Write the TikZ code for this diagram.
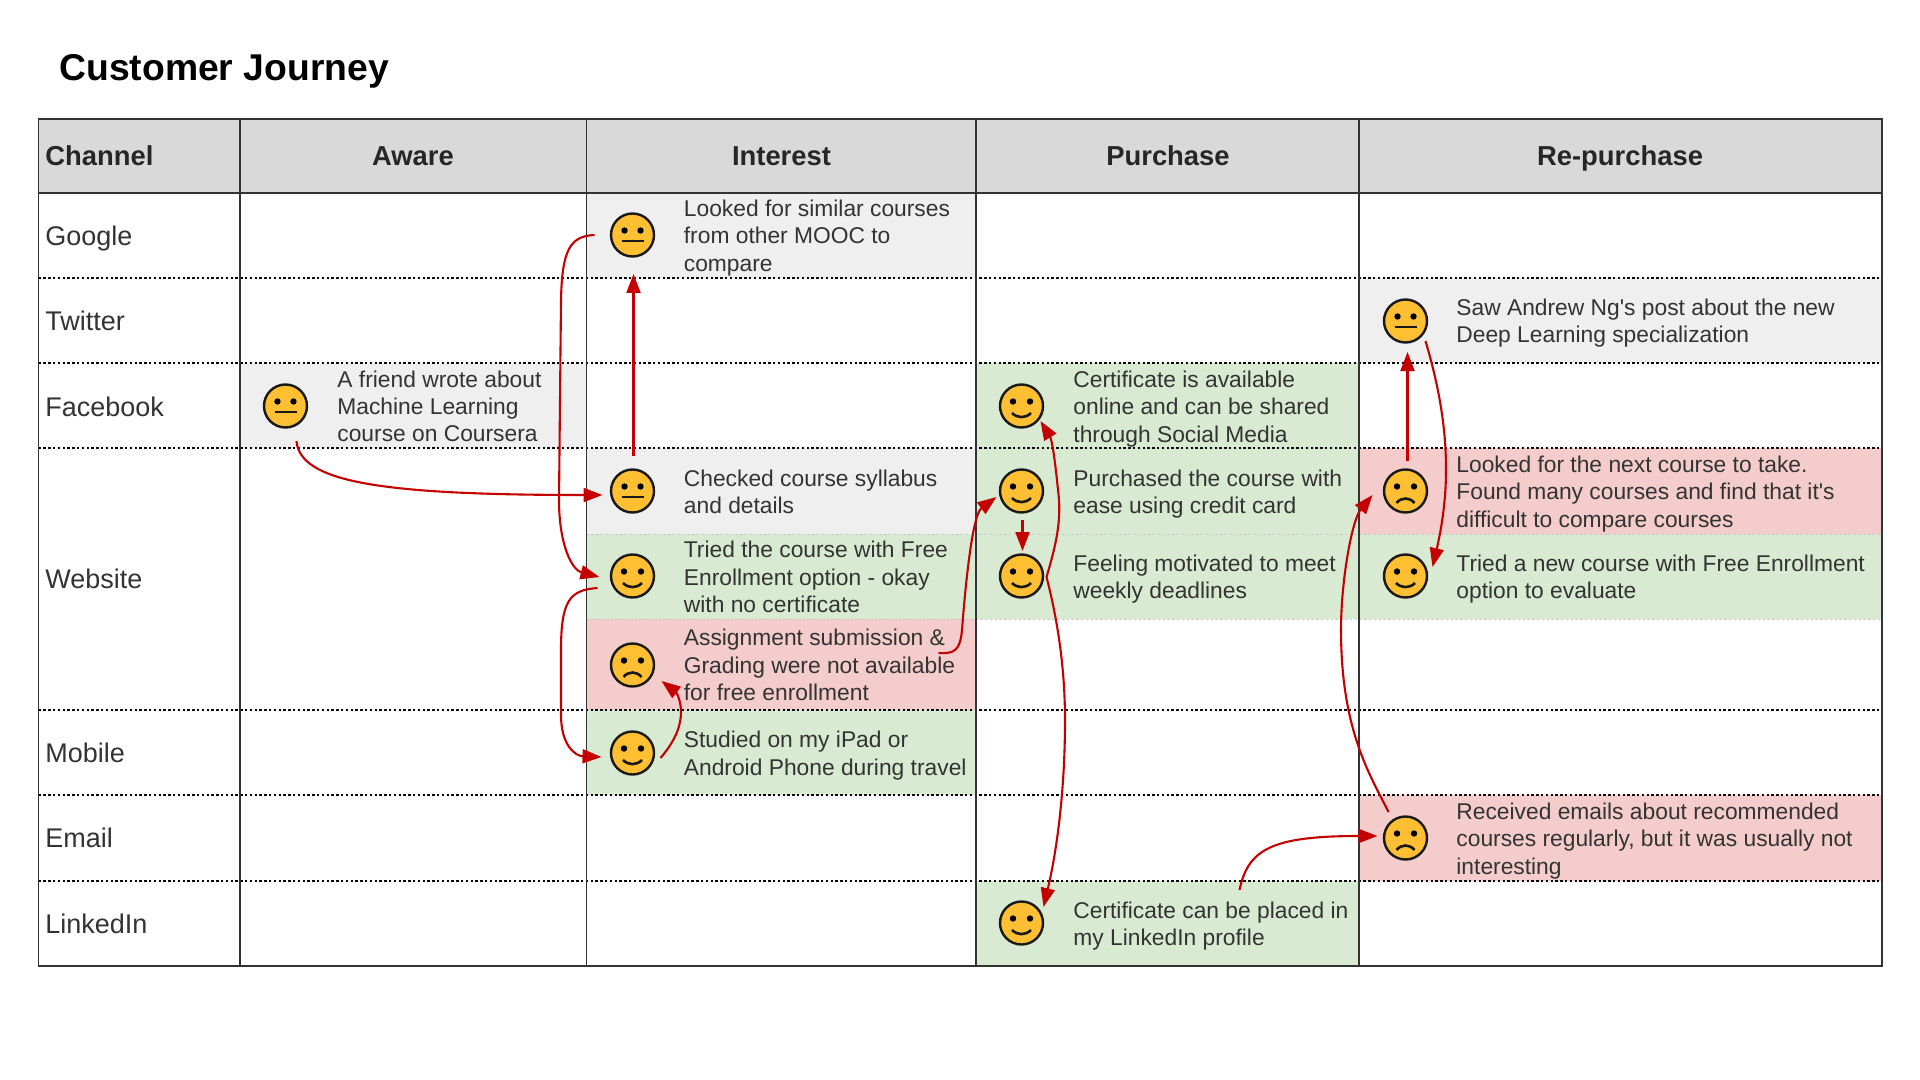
\documentclass[tikz,border=0pt]{standalone}
\usepackage{fontspec}
\setmainfont{Liberation Sans}
\usetikzlibrary{arrows.meta}

\definecolor{headgray}{HTML}{D9D9D9}
\definecolor{cellgray}{HTML}{EFEFEF}
\definecolor{cellgreen}{HTML}{D9EAD3}
\definecolor{cellred}{HTML}{F4CCCC}
\definecolor{faceyellow}{HTML}{FFBF33}
\definecolor{flowred}{HTML}{C40000}
\definecolor{inkgray}{HTML}{333333}

\tikzset{
  face/.style={circle,draw=black!90,line width=1.2pt,fill=faceyellow,
    minimum size=21.5pt,inner sep=0pt,outer sep=0pt},
  neutral/.style={face,path picture={
      \begin{scope}[shift={(path picture bounding box.center)}]
        \fill[black] (-8,-4.5) circle (1.6pt) (8,-4.5) circle (1.6pt);
        \draw[line width=1.4pt] (-11,6) -- (11,6);
      \end{scope}}},
  happy/.style={face,path picture={
      \begin{scope}[shift={(path picture bounding box.center)}]
        \fill[black] (-8.5,-4.5) circle (1.6pt) (8.5,-4.5) circle (1.6pt);
        \draw[line width=1.3pt] (-9.5,7) .. controls (-4,12.5) and (4,12.5) .. (9.5,7);
      \end{scope}}},
  sad/.style={face,path picture={
      \begin{scope}[shift={(path picture bounding box.center)}]
        \fill[black] (-8.5,-4.5) circle (1.6pt) (8.5,-4.5) circle (1.6pt);
        \draw[line width=1.3pt] (-9,12) .. controls (-4,6) and (4,6) .. (9,12);
      \end{scope}}},
  note/.style={anchor=west,align=left,inner sep=0pt,text=inkgray,
    font=\fontsize{11.4}{13.65}\selectfont},
  chan/.style={anchor=west,inner sep=0pt,text=inkgray,text height=10pt,text depth=0pt,
    font=\fontsize{13.5}{16}\selectfont},
  head/.style={inner sep=0pt,text=black!85,text height=10pt,text depth=0pt,
    font=\fontsize{13.7}{16}\selectfont\bfseries},
  flow/.style={->,draw=flowred,line width=1.05pt},
  dotline/.style={line width=.75pt,dash pattern=on 1.2pt off 1.2pt},
  fadeline/.style={line width=.5pt,black!22,dash pattern=on 1.2pt off 1.2pt}
}

\begin{document}
\begin{tikzpicture}[x=.5pt,y=-.5pt,>={Triangle[length=9.5pt,width=7pt]}]
  \useasboundingbox (0,0) rectangle (1920,1080);

  % cell fills
  \fill[headgray] (38.5,119) rectangle (1882,193);
  \foreach \xa/\ya/\xb/\yb/\col in {
    586.5/193/976/278/cellgray, 240/363/586.5/448/cellgray, 586.5/448/976/534/cellgray,
    1359/278/1882/363/cellgray, 586.5/534/976/619/cellgreen, 586.5/619/976/710/cellred,
    586.5/710/976/795/cellgreen, 976/363/1359/448/cellgreen, 976/448/1359/619/cellgreen,
    976/881/1359/966/cellgreen, 1359/448/1882/534/cellred, 1359/534/1882/619/cellgreen,
    1359/795/1882/881/cellred}
    \fill[\col] (\xa,\ya) rectangle (\xb,\yb);

  % grid
  \draw[fadeline] (586.5,534) -- (1882,534);
  \draw[fadeline] (586.5,619) -- (1882,619);
  \foreach \y in {278,363,448,710,795,881}
    \draw[dotline] (38.5,\y) -- (1882,\y);
  \foreach \x in {240,586.5,976,1359}
    \draw[line width=.75pt,black!80] (\x,119) -- (\x,966);
  \draw[line width=.85pt,black!80] (38.5,193) -- (1882,193);
  \draw[line width=.85pt,black!80] (38.5,119) rectangle (1882,966);

  \node[anchor=west,inner sep=0pt,font=\fontsize{18.65}{22}\selectfont\bfseries] (title) at (59,71) {Customer Journey};

  % header row
  \node[head,anchor=west] (hChannel) at (45,156) {Channel};
  \node[head] (hAware) at (413,156) {Aware};
  \node[head] (hInterest) at (781.5,156) {Interest};
  \node[head] (hPurchase) at (1168,156) {Purchase};
  \node[head] (hRepurchase) at (1620,156) {Re-purchase};

  % channels
  \node[chan] (cGoogle) at (45,236) {Google};
  \node[chan] (cTwitter) at (45,321) {Twitter};
  \node[chan] (cFacebook) at (45,406) {Facebook};
  \node[chan] (cWebsite) at (45,578) {Website};
  \node[chan] (cMobile) at (45,752.5) {Mobile};
  \node[chan] (cEmail) at (45,837.5) {Email};
  \node[chan] (cLinkedin) at (45,923) {LinkedIn};

  % faces
  \node[neutral] (fFriend) at (285.5,406) {};
  \node[neutral] (fSimilar) at (632.5,235) {};
  \node[neutral] (fSyllabus) at (632.5,491) {};
  \node[happy] (fTried) at (632.5,576) {};
  \node[sad] (fGrading) at (632.5,665) {};
  \node[happy] (fStudied) at (632.5,753) {};
  \node[happy] (fShared) at (1021.5,406) {};
  \node[happy] (fPaid) at (1021.5,491) {};
  \node[happy] (fMotivated) at (1021.5,576) {};
  \node[happy] (fPlaced) at (1021.5,923) {};
  \node[neutral] (fPost) at (1405.5,321) {};
  \node[sad] (fNext) at (1405.5,491) {};
  \node[happy] (fNew) at (1405.5,576) {};
  \node[sad] (fEmails) at (1405.5,838) {};

  % notes
  \node[note] (nFriend) at (337,406.5) {A friend wrote about\\Machine Learning\\course on Coursera};
  \node[note] (nSimilar) at (683.5,238) {Looked for similar courses\\from other MOOC to\\compare};
  \node[note] (nSyllabus) at (683.5,491.5) {Checked course syllabus\\and details};
  \node[note] (nTried) at (683.5,577) {Tried the course with Free\\Enrollment option - okay\\with no certificate};
  \node[note] (nGrading) at (683.5,665) {Assignment submission \&\\Grading were not available\\for free enrollment};
  \node[note] (nStudied) at (683.5,755.5) {Studied on my iPad or\\Android Phone during travel};
  \node[note] (nShared) at (1073,409) {Certificate is available\\online and can be shared\\through Social Media};
  \node[note] (nPaid) at (1073,494) {Purchased the course with\\ease using credit card};
  \node[note] (nMotivated) at (1073,579) {Feeling motivated to meet\\weekly deadlines};
  \node[note] (nPlaced) at (1073,926) {Certificate can be placed in\\my LinkedIn profile};
  \node[note] (nPost) at (1456,323) {Saw Andrew Ng\textquotesingle s post about the new\\Deep Learning specialization};
  \node[note] (nNext) at (1456,494) {Looked for the next course to take.\\Found many courses and find that it\textquotesingle s\\difficult to compare courses};
  \node[note] (nNew) at (1456,579) {Tried a new course with Free Enrollment\\option to evaluate};
  \node[note] (nEmails) at (1456,841) {Received emails about recommended\\courses regularly, but it was usually not\\interesting};

  % journey arrows
  \draw[flow] ([shift={(11,35)}]fFriend.center) .. controls (300,482) and (380,495) .. ([shift={(-30,4)}]fSyllabus.center);
  \draw[flow] ([shift={(1,-35)}]fSyllabus.center) -- ([shift={(1,39)}]fSimilar.center);
  \draw[flow] ([shift={(-38,0)}]fSimilar.center) .. controls (570,236) and (562,250) .. (561,300)
    -- (559,500) .. controls (559,545) and (572,570) .. ([shift={(-33,1)}]fTried.center);
  \draw[flow] ([shift={(-35,12)}]fTried.center) .. controls (570,590) and (561,600) .. (561,650)
    -- (561,715) .. controls (561,745) and (575,756) .. ([shift={(-31,4)}]fStudied.center);
  \draw[flow] ([shift={(28,5)}]fStudied.center) .. controls (676,740) and (681,725) .. (681,712)
    .. controls (681,700) and (676,692) .. ([shift={(29,16)}]fGrading.center);
  \draw[flow] ([shift={(306,-12)}]fGrading.center) .. controls (955,654) and (960,650) .. (962,630)
    .. controls (965,590) and (972,515) .. ([shift={(-25,6)}]fPaid.center);
  \draw[flow] ([shift={(1,29)}]fPaid.center) -- ([shift={(1,-25)}]fMotivated.center);
  \draw[flow] ([shift={(25,1)}]fMotivated.center) .. controls (1056,545) and (1062,520) .. (1058,490)
    .. controls (1055,460) and (1052,440) .. ([shift={(19,15)}]fShared.center);
  \draw[flow] ([shift={(25,1)}]fMotivated.center) .. controls (1055,610) and (1065,660) .. (1065,720)
    .. controls (1065,790) and (1057,850) .. ([shift={(22,-16)}]fPlaced.center);
  \draw[flow] ([shift={(218,-33)}]fPlaced.center) .. controls (1248,850) and (1270,836) .. ([shift={(-28,-2)}]fEmails.center);
  \draw[flow] ([shift={(-17,-26)}]fEmails.center) .. controls (1370,775) and (1341,730) .. (1341,630)
    .. controls (1341,580) and (1352,520) .. ([shift={(-33,4)}]fNext.center);
  \draw[flow] ([shift={(2,-30)}]fNext.center) -- ([shift={(2,31)}]fPost.center);
  \draw[flow] ([shift={(20,20)}]fPost.center) .. controls (1440,390) and (1446,430) .. (1446,470)
    .. controls (1446,505) and (1440,535) .. ([shift={(27,-9)}]fNew.center);
\end{tikzpicture}
\end{document}
